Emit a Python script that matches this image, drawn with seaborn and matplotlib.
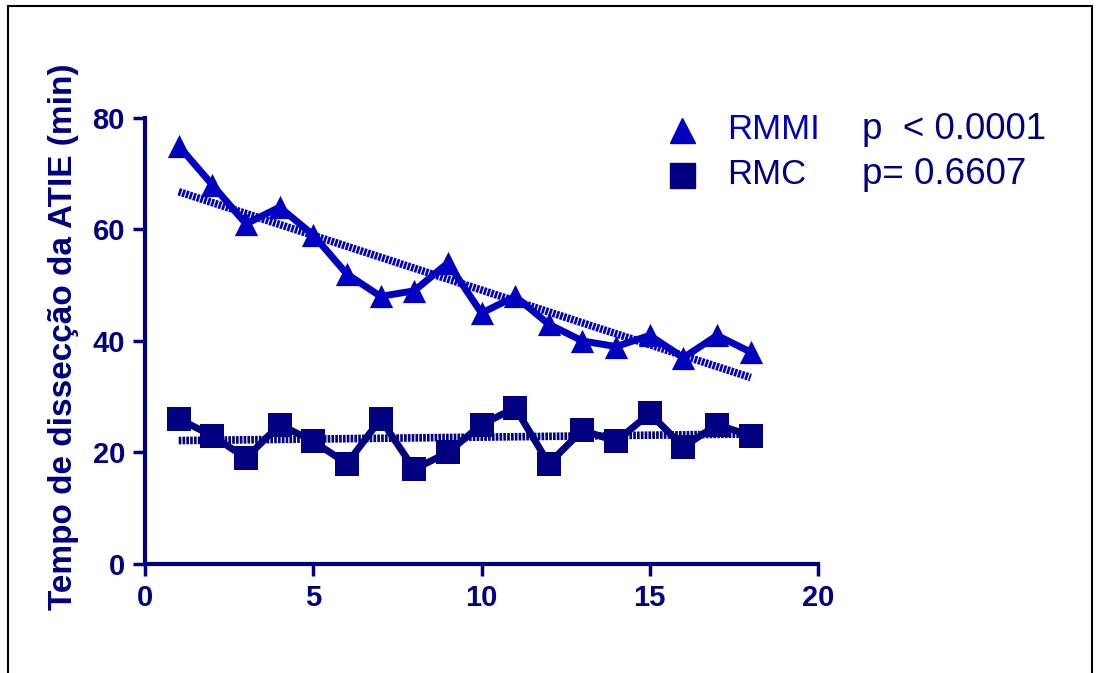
import matplotlib
matplotlib.use("Agg")
import matplotlib.pyplot as plt
import seaborn as sns
import pandas as pd
from matplotlib.patches import Rectangle

# Surgery number (sequence of cases)
cases = list(range(1, 19))
# Dissection time (min) per group
rmmi_minutes = [75, 68, 61, 64, 59, 52, 48, 49, 54, 45, 48, 43, 40, 39, 41, 37, 41, 38]
rmc_minutes = [26, 23, 19, 25, 22, 18, 26, 17, 20, 25, 28, 18, 24, 22, 27, 21, 25, 23]

group_names = ["RMMI", "RMC"]
p_labels = ["p  < 0.0001", "p= 0.6607"]
x_ticks = [0, 5, 10, 15, 20]
y_ticks = [0, 20, 40, 60, 80]
y_label = "Tempo de dissecção da ATIE (min)"

NAVY = "#000080"
BLUE = "#0000C0"

sns.set_theme(style="white")
plt.rcParams["font.family"] = ["Liberation Sans", "DejaVu Sans"]

fig = plt.figure(figsize=(10.98, 6.73), dpi=100)
ax = fig.add_axes([0.1321, 0.162, 0.6129, 0.6627])

df_rmmi = pd.DataFrame({"caso": cases, "tempo": rmmi_minutes})
df_rmc = pd.DataFrame({"caso": cases, "tempo": rmc_minutes})

series = [(df_rmmi, BLUE, "^"), (df_rmc, NAVY, "s")]

for df, color, marker in series:
    # connecting line
    sns.lineplot(data=df, x="caso", y="tempo", ax=ax, color=color,
                 linewidth=5, zorder=2, legend=False)
    # linear regression line with a striped look
    sns.regplot(data=df, x="caso", y="tempo", ax=ax, scatter=False, ci=None,
                color=color, line_kws=dict(linewidth=5.5, linestyle=(0, (0.35, 0.15)),
                                           zorder=3))
    # markers on top
    sns.scatterplot(data=df, x="caso", y="tempo", ax=ax, color=color, marker=marker,
                    s=280, linewidth=0, zorder=4, legend=False)

ax.set_xlim(0, 20)
ax.set_ylim(0, 80)
ax.set_xticks(x_ticks)
ax.set_yticks(y_ticks)
ax.set_xlabel("")
ax.set_ylabel(y_label, fontsize=24, fontweight="bold", color=NAVY,
              va="center", ha="center")
ax.yaxis.set_label_coords(-0.121, 0.509)

for side in ["top", "right"]:
    ax.spines[side].set_visible(False)
for side in ["left", "bottom"]:
    ax.spines[side].set_color(NAVY)
    ax.spines[side].set_linewidth(3)

ax.tick_params(axis="both", colors=NAVY, length=8.5, width=2.5, direction="out",
               labelsize=21)
ax.tick_params(axis="x", pad=6)
ax.tick_params(axis="y", pad=6)
ax.xaxis.set_ticks_position("bottom")
ax.yaxis.set_ticks_position("left")
for lab in ax.get_xticklabels() + ax.get_yticklabels():
    lab.set_fontweight("bold")

# legend with p values
legend_rows = [(0.807, BLUE, "^"), (0.740, NAVY, "s")]
for (ypos, color, marker), name, ptxt in zip(legend_rows, group_names, p_labels):
    fig.lines.append(plt.Line2D([0.621], [ypos], transform=fig.transFigure,
                                marker=marker, markersize=18, color=color,
                                linestyle="none"))
    fig.text(0.662, ypos, name, fontsize=25, color=color, va="center", ha="left")
    fig.text(0.785, ypos, ptxt, fontsize=26.5, color=NAVY, va="center", ha="left")

# outer frame
fig.patches.append(Rectangle((0.0073, -0.05), 0.9872, 1.041, transform=fig.transFigure,
                             fill=False, edgecolor="black", linewidth=1.5))

fig.savefig("out.png", dpi=100)
